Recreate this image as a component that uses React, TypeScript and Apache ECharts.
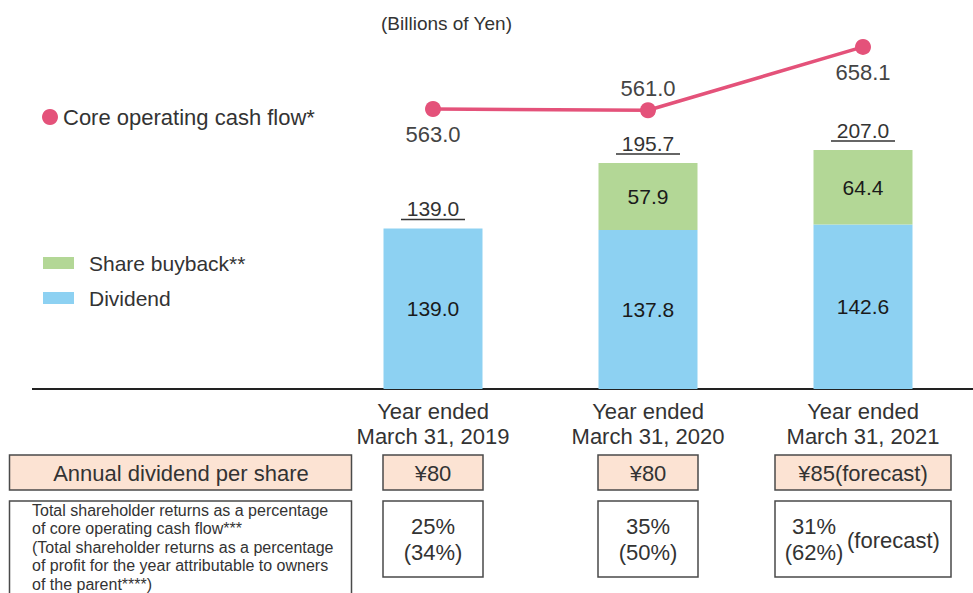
import React, { useEffect, useRef } from "react";
import * as echarts from "echarts";

// ---- data ----
const categories = [
  "Year ended\nMarch 31, 2019",
  "Year ended\nMarch 31, 2020",
  "Year ended\nMarch 31, 2021",
];
const dividend = [139.0, 137.8, 142.6];
const buyback: (number | null)[] = [null, 57.9, 64.4];
const coreCashFlow = [563.0, 561.0, 658.1];
const dividendPerShare = ["¥80", "¥80", "¥85(forecast)"];
const returnPctCash = ["25%", "35%", "31%"];
const returnPctProfit = ["(34%)", "(50%)", "(62%)"];
const forecastNote = ["", "", "(forecast)"];

const rowLabel1 = "Annual dividend per share";
const rowLabel2 =
  "Total shareholder returns as a percentage\nof core operating cash flow***\n(Total shareholder returns as a percentage\nof profit for the year attributable to owners\nof the parent****)";

// ---- style ----
const FONT = "'Liberation Sans', Arial, sans-serif";
const BLUE = "#8DD1F2";
const GREEN = "#B3D796";
const PINK = "#E4527A";
const BOX_FILL = "#FCE3D3";
const BOX_STROKE = "#4a4a4a";
const TEXT = "#333";
const W = 973;
const H = 593;
const BASE_Y = 389;

export default function App() {
  const ref = useRef<HTMLDivElement>(null);
  useEffect(() => {
    document.body.style.margin = "0";
    if (!ref.current) return;
    const chart = echarts.init(ref.current, undefined, { renderer: "svg", width: W, height: H });
    const totals = dividend.map((d, i) => [i, d + (buyback[i] ?? 0)]);
    const lineLabelPos = ["bottom", "top", "bottom"];
    const lineLabelDist = [7, 3, 7];

    const option: any = {
      animation: false,
      textStyle: { fontFamily: FONT },
      title: {
        text: "(Billions of Yen)",
        left: 381,
        top: 14,
        padding: 0,
        textStyle: { fontSize: 19, fontWeight: "normal", color: TEXT, fontFamily: FONT },
      },
      legend: [
        {
          data: ["Core operating cash flow*"],
          left: 42,
          top: 105,
          padding: 0,
          icon: "circle",
          itemWidth: 16,
          itemHeight: 16,
          textStyle: { fontSize: 22, color: TEXT, lineHeight: 24, fontFamily: FONT },
        },
        {
          data: ["Share buyback**", "Dividend"],
          orient: "vertical",
          left: 43,
          top: 251,
          padding: 0,
          icon: "rect",
          itemWidth: 31,
          itemHeight: 12,
          itemGap: 11,
          textStyle: { fontSize: 21, color: TEXT, lineHeight: 24, padding: [0, 0, 0, 10], fontFamily: FONT },
        },
      ],
      grid: { left: 325.5, right: 2.5, top: 30, bottom: H - BASE_Y },
      xAxis: {
        type: "category",
        data: categories,
        axisLine: { show: true, lineStyle: { color: "#222", width: 2 } },
        axisTick: { show: false },
        axisLabel: { fontSize: 22, color: TEXT, lineHeight: 25, margin: 10, fontFamily: FONT },
      },
      yAxis: [
        { type: "value", min: 0, max: 311, show: false, splitLine: { show: false } },
        { type: "value", min: 134, max: 684, show: false, splitLine: { show: false } },
      ],
      series: [
        {
          name: "Dividend",
          type: "bar",
          stack: "total",
          barWidth: 99,
          data: dividend,
          itemStyle: { color: BLUE },
          label: {
            show: true,
            position: "inside",
            fontSize: 21,
            color: "#1a1a1a",
            fontFamily: FONT,
            formatter: (p: any) => Number(p.value).toFixed(1),
          },
        },
        {
          name: "Share buyback**",
          type: "bar",
          stack: "total",
          barWidth: 99,
          data: buyback.map((v) => (v == null ? "-" : v)),
          itemStyle: { color: GREEN },
          label: {
            show: true,
            position: "inside",
            fontSize: 21,
            color: "#1a1a1a",
            fontFamily: FONT,
            formatter: (p: any) => Number(p.value).toFixed(1),
          },
        },
        {
          name: "totals",
          type: "custom",
          yAxisIndex: 0,
          data: totals,
          z: 5,
          renderItem: (params: any, api: any) => {
            const idx = api.value(0);
            const total = api.value(1);
            const pt = api.coord([idx, total]);
            return {
              type: "group",
              children: [
                {
                  type: "text",
                  x: pt[0],
                  y: pt[1] - 20,
                  style: {
                    text: Number(total).toFixed(1),
                    align: "center",
                    verticalAlign: "middle",
                    fontSize: 21,
                    fontFamily: FONT,
                    fill: TEXT,
                  },
                },
                {
                  type: "line",
                  shape: { x1: pt[0] - 32, y1: pt[1] - 9, x2: pt[0] + 32, y2: pt[1] - 9 },
                  style: { stroke: TEXT, lineWidth: 1.5 },
                },
              ],
            };
          },
        },
        {
          name: "Core operating cash flow*",
          type: "line",
          yAxisIndex: 1,
          z: 10,
          symbol: "circle",
          symbolSize: 16,
          data: coreCashFlow.map((v, i) => ({
            value: v,
            label: { position: lineLabelPos[i], distance: lineLabelDist[i] },
          })),
          itemStyle: { color: PINK },
          lineStyle: { color: PINK, width: 3.5 },
          label: {
            show: true,
            fontSize: 22,
            color: "#444",
            fontFamily: FONT,
            formatter: (p: any) => Number(p.value).toFixed(1),
          },
        },
      ],
    };
    chart.setOption(option);

    // table below the chart, aligned to category centres
    const centers = categories.map((_, i) => chart.convertToPixel({ xAxisIndex: 0 }, i) as number);
    const boxWidths = [100, 100, 176];
    const g: any[] = [];
    g.push({
      type: "line",
      shape: { x1: 32, y1: BASE_Y, x2: W, y2: BASE_Y },
      style: { stroke: "#222", lineWidth: 2 },
    });
    // row 1 label
    g.push({
      type: "rect",
      shape: { x: 9.5, y: 455, width: 342, height: 35 },
      style: { fill: BOX_FILL, stroke: BOX_STROKE, lineWidth: 1.5 },
    });
    g.push({
      type: "text",
      x: 181,
      y: 473,
      style: { text: rowLabel1, align: "center", verticalAlign: "middle", fontSize: 22, fontFamily: FONT, fill: TEXT },
    });
    // row 2 label
    g.push({
      type: "rect",
      shape: { x: 9.5, y: 501, width: 342, height: 110 },
      style: { fill: "#fff", stroke: BOX_STROKE, lineWidth: 1.5 },
    });
    g.push({
      type: "text",
      x: 32,
      y: 501,
      style: { text: rowLabel2, align: "left", verticalAlign: "top", fontSize: 16, lineHeight: 18.5, fontFamily: FONT, fill: TEXT },
    });
    centers.forEach((cx, i) => {
      const bw = boxWidths[i];
      const left = cx - bw / 2;
      g.push({
        type: "rect",
        shape: { x: left, y: 455, width: bw, height: 35 },
        style: { fill: BOX_FILL, stroke: BOX_STROKE, lineWidth: 1.5 },
      });
      g.push({
        type: "text",
        x: cx,
        y: 473,
        style: { text: dividendPerShare[i], align: "center", verticalAlign: "middle", fontSize: 22, fontFamily: FONT, fill: TEXT },
      });
      g.push({
        type: "rect",
        shape: { x: left, y: 501, width: bw, height: 76 },
        style: { fill: "#fff", stroke: BOX_STROKE, lineWidth: 1.5 },
      });
      const hasNote = forecastNote[i] !== "";
      const pctX = hasNote ? left + 39 : cx;
      g.push({
        type: "text",
        x: pctX,
        y: 539,
        style: {
          text: returnPctCash[i] + "\n" + returnPctProfit[i],
          align: "center",
          verticalAlign: "middle",
          fontSize: 22,
          lineHeight: 26,
          fontFamily: FONT,
          fill: TEXT,
        },
      });
      if (hasNote) {
        g.push({
          type: "text",
          x: left + 72,
          y: 540,
          style: { text: forecastNote[i], align: "left", verticalAlign: "middle", fontSize: 22, fontFamily: FONT, fill: TEXT },
        });
      }
    });
    chart.setOption({ graphic: g });

    return () => chart.dispose();
  }, []);
  return <div ref={ref} style={{ width: W, height: H }} />;
}
